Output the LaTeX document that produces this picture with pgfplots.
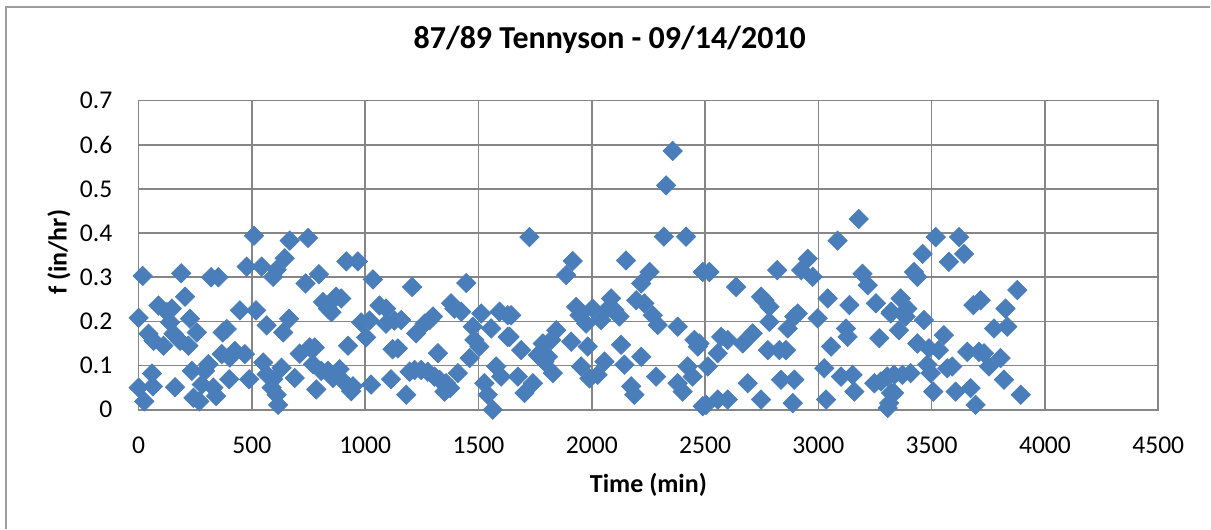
\documentclass[border=0pt]{standalone}
\usepackage{pgfplots}
\pgfplotsset{compat=1.18}
\usepackage{fontspec}
\setmainfont{Carlito}
\definecolor{mk}{RGB}{74,126,187}
\definecolor{gr}{RGB}{134,134,134}
\begin{document}
\begin{tikzpicture}
\begin{axis}[
  scale only axis, width=510.15bp, height=154.65bp,
  xmin=0, xmax=4500, ymin=0, ymax=0.7,
  xtick={0,500,...,4500}, ytick={0,0.1,...,0.7},
  grid=major, major grid style={gr, line width=0.8bp},
  axis line style={gr, line width=0.8bp},
  major tick length=0pt,
  clip=false,
  /pgf/number format/assume math mode=true,
  /pgf/number format/1000 sep={},
  /pgf/number format/fixed,
  ticklabel style={font=\fontsize{12.8bp}{14bp}\selectfont, inner sep=0pt},
  xticklabel style={anchor=north, yshift=-13.3bp},
  yticklabel style={anchor=east, xshift=-13bp},
  title={\bfseries 87/89 Tennyson - 09/14/2010},
  title style={font=\fontsize{16bp}{18bp}\selectfont, at={(axis description cs:0.462,1.129)}, anchor=base, inner sep=0pt},
  xlabel={\bfseries Time (min)},
  xlabel style={font=\fontsize{13bp}{15bp}\selectfont, at={(axis description cs:0.5,-0.267)}, anchor=base, inner sep=0pt},
  ylabel={\bfseries f (in/hr)},
  ylabel style={font=\fontsize{13bp}{15bp}\selectfont, at={(axis description cs:-0.0706,0.509)}, anchor=base, inner sep=0pt},
]
\path (rel axis cs:-0.13594,-0.38474) rectangle (rel axis cs:1.05097,1.32557);
\draw[gr!80, line width=0.8bp] (rel axis cs:-0.1301,-0.38474) -- (rel axis cs:-0.1301,1.302) -- (rel axis cs:1.05097,1.302);
\addplot[only marks, mark=square*, mark size=3.4bp, mark options={rotate=45, fill=mk, draw=mk}] table {
x y
0 0.208
18 0.303
0 0.05
25 0.019
59 0.082
44 0.172
66 0.156
63 0.053
88 0.236
110 0.145
125 0.221
147 0.229
139 0.198
161 0.051
154 0.172
188 0.309
205 0.256
183 0.156
220 0.145
227 0.206
257 0.175
235 0.088
242 0.027
268 0.019
279 0.057
293 0.088
308 0.103
330 0.05
342 0.031
320 0.30
352 0.30
371 0.175
389 0.183
367 0.126
400 0.069
403 0.118
425 0.133
447 0.225
469 0.126
477 0.324
488 0.069
509 0.394
518 0.225
543 0.324
550 0.107
565 0.191
565 0.080
587 0.05
594 0.069
609 0.034
616 0.011
631 0.095
594 0.301
609 0.317
645 0.343
667 0.383
638 0.175
664 0.206
689 0.072
711 0.127
737 0.286
748 0.389
755 0.141
777 0.141
770 0.103
784 0.046
796 0.307
814 0.244
836 0.229
851 0.221
872 0.256
894 0.252
806 0.088
836 0.088
858 0.072
887 0.092
902 0.065
924 0.145
917 0.336
938 0.042
946 0.053
968 0.336
982 0.198
1004 0.164
1026 0.057
1034 0.295
1019 0.202
1063 0.236
1092 0.229
1092 0.195
1114 0.069
1121 0.137
1129 0.202
1159 0.203
1144 0.139
1207 0.278
1181 0.034
1225 0.173
1262 0.195
1284 0.203
1299 0.211
1321 0.128
1196 0.086
1218 0.090
1247 0.090
1276 0.086
1306 0.075
1328 0.068
1357 0.06
1375 0.049
1350 0.041
1409 0.083
1379 0.241
1394 0.229
1424 0.222
1446 0.287
1475 0.188
1482 0.158
1504 0.143
1512 0.218
1461 0.117
1526 0.06
1541 0.034
1563 0.0
1556 0.184
1593 0.222
1629 0.214
1578 0.098
1600 0.075
1629 0.165
1644 0.214
1637 0.165
1688 0.135
1674 0.075
1703 0.038
1740 0.06
1725 0.391
1762 0.124
1784 0.150
1806 0.120
1821 0.158
1843 0.180
1828 0.083
1791 0.109
1887 0.305
1916 0.337
1909 0.154
1931 0.233
1946 0.214
1953 0.098
1975 0.195
1982 0.143
2004 0.229
1990 0.071
2026 0.079
2056 0.109
2041 0.203
2071 0.229
2085 0.252
2100 0.226
2122 0.211
2129 0.147
2151 0.338
2144 0.102
2174 0.053
2188 0.034
2196 0.248
2218 0.120
2232 0.241
2218 0.286
2255 0.312
2269 0.214
2291 0.192
2284 0.075
2318 0.392
2328 0.508
2357 0.586
2379 0.188
2416 0.392
2379 0.06
2401 0.041
2423 0.098
2453 0.158
2468 0.143
2445 0.075
2490 0.312
2490 0.008
2475 0.150
2519 0.312
2512 0.098
2504 0.011
2556 0.128
2571 0.165
2556 0.023
2600 0.023
2600 0.158
2637 0.278
2666 0.150
2688 0.06
2710 0.173
2747 0.256
2762 0.248
2777 0.135
2747 0.023
2784 0.233
2784 0.199
2818 0.316
2828 0.135
2857 0.135
2835 0.068
2894 0.068
2887 0.015
2865 0.184
2894 0.211
2909 0.218
2924 0.316
2953 0.342
2975 0.301
2997 0.207
3026 0.094
3034 0.023
3041 0.252
3056 0.143
3085 0.383
3100 0.075
3122 0.184
3129 0.165
3137 0.237
3151 0.079
3159 0.041
3178 0.432
3195 0.308
3218 0.282
3254 0.241
3269 0.162
3247 0.06
3276 0.064
3306 0.004
3321 0.222
3321 0.038
3312 0.015
3334 0.038
3304 0.075
3334 0.079
3371 0.079
3407 0.083
3319 0.218
3356 0.180
3363 0.252
3393 0.229
3385 0.211
3422 0.312
3437 0.301
3460 0.353
3466 0.203
3437 0.150
3488 0.139
3481 0.102
3496 0.083
3507 0.041
3518 0.391
3532 0.135
3554 0.169
3569 0.094
3576 0.335
3591 0.098
3606 0.041
3621 0.391
3643 0.353
3657 0.131
3672 0.049
3694 0.011
3684 0.237
3716 0.248
3709 0.131
3731 0.128
3753 0.098
3775 0.184
3804 0.117
3826 0.229
3834 0.188
3819 0.068
3878 0.271
3893 0.034
};
\end{axis}
\end{tikzpicture}
\end{document}
